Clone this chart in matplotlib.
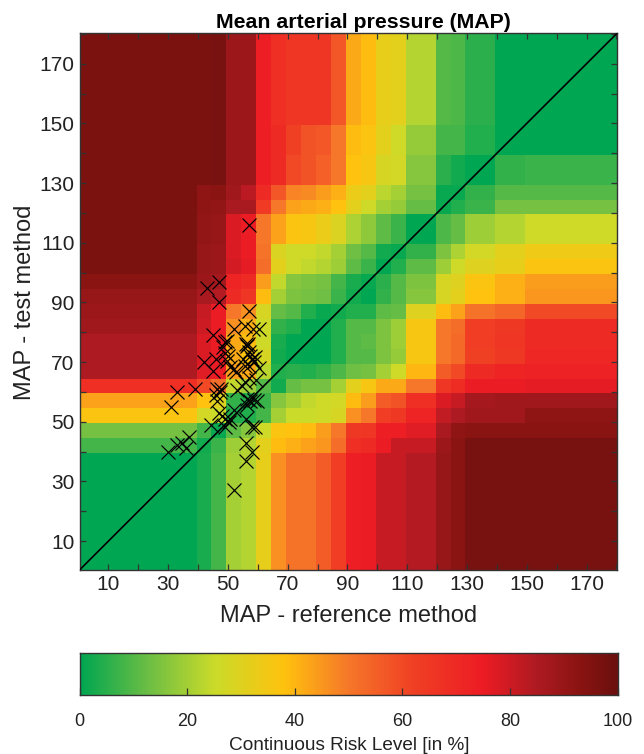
import matplotlib
matplotlib.use("Agg")
import matplotlib.pyplot as plt
import numpy as np
from matplotlib.colors import LinearSegmentedColormap

plt.rcParams['font.family'] = ['Liberation Sans', 'DejaVu Sans']

bin_edges = [0.5, 39.5, 44.5, 49.5, 54.5, 59.5, 64.5, 69.5, 74.5, 79.5, 84.5, 89.5,
             94.5, 99.5, 104.5, 109.5, 119.5, 124.5, 129.5, 139.5, 149.5, 180.2]

# rows listed from the top band (150-180) to the bottom band (0-40)
risk_rows_top_down = [
    [96, 96, 97, 89, 89, 74, 68, 66, 66, 66, 57, 42, 39, 32, 31, 22, 10, 9, 5, 0, 0],
    [96, 96, 97, 89, 89, 74, 70, 62, 58, 57, 50, 39, 37, 31, 26, 18, 8, 8, 4, 0, 0],
    [96, 96, 97, 89, 89, 74, 70, 60, 58, 55, 50, 38, 36, 28, 27, 16, 5, 2, 0, 6, 7],
    [96, 92, 93, 88, 83, 70, 57, 48, 47, 44, 41, 33, 31, 23, 20, 14, 1, 1, 6, 10, 10],
    [96, 92, 91, 86, 86, 64, 50, 43, 42, 41, 38, 31, 26, 20, 18, 12, 1, 4, 7, 14, 14],
    [96, 91, 90, 78, 75, 50, 43, 37, 36, 33, 29, 21, 17, 11, 7, 0, 9, 12, 19, 22, 26],
    [96, 90, 89, 78, 75, 51, 29, 26, 26, 24, 20, 13, 10, 2, 1, 6, 15, 21, 27, 31, 34],
    [96, 90, 89, 79, 76, 52, 31, 26, 24, 22, 19, 11, 7, 0, 4, 11, 19, 26, 30, 32, 37],
    [93, 89, 87, 72, 70, 44, 24, 16, 15, 14, 8, 3, 1, 5, 10, 15, 28, 30, 37, 41, 44],
    [90, 86, 84, 70, 66, 39, 20, 15, 14, 13, 7, 2, 0, 6, 10, 16, 28, 31, 38, 41, 45],
    [89, 81, 75, 50, 46, 28, 12, 10, 4, 1, 2, 4, 4, 11, 12, 30, 39, 43, 51, 54, 60],
    [88, 80, 75, 46, 41, 26, 6, 4, 0, 0, 4, 10, 10, 15, 19, 36, 50, 52, 63, 65, 70],
    [85, 78, 75, 42, 39, 26, 3, 0, 0, 0, 4, 10, 11, 15, 19, 36, 50, 53, 63, 66, 70],
    [85, 78, 75, 42, 38, 28, 2, 0, 0, 0, 4, 10, 10, 15, 18, 36, 50, 53, 62, 65, 71],
    [85, 77, 75, 44, 42, 23, 4, 5, 4, 6, 9, 13, 14, 20, 26, 40, 56, 60, 70, 72, 73],
    [68, 60, 52, 24, 19, 10, 2, 12, 14, 14, 20, 31, 36, 42, 42, 50, 66, 69, 75, 75, 76],
    [43, 38, 30, 6, 4, 7, 16, 20, 24, 26, 27, 39, 44, 56, 58, 68, 78, 81, 87, 88, 88],
    [37, 27, 25, 4, 4, 8, 20, 25, 25, 26, 28, 46, 50, 63, 65, 72, 82, 85, 88, 88, 92],
    [14, 8, 1, 11, 16, 26, 37, 38, 39, 44, 50, 65, 66, 74, 74, 77, 86, 92, 93, 93, 93],
    [8, 2, 7, 19, 22, 31, 39, 41, 43, 45, 52, 68, 70, 75, 81, 81, 89, 93, 97, 97, 97],
    [0, 3, 8, 20, 22, 32, 46, 51, 51, 56, 63, 74, 75, 81, 81, 84, 90, 93, 97, 97, 97],
]

marker_x = [57, 43, 47, 47.1, 57, 52, 55.8, 58.4, 60.3, 45, 49, 49.7, 48.5, 49, 50, 56, 56.8, 56.4,
            42, 46, 45, 49.7, 52, 50.8, 52.7, 55.2, 56.9, 58, 59, 55.8, 57, 58.6, 60.3, 57.5,
            59.5, 57, 55.8, 54.7, 53, 33, 39, 31, 46.3, 47.6, 47.2, 46, 46.3,
            56.3, 57.5, 58.6, 59.7, 56.3, 51.9, 50.8, 56, 46.9, 48, 49, 50.2, 49, 44.3,
            58, 59, 56, 58.2, 56, 52, 30, 33, 34.6, 36, 37]
marker_y = [116, 95, 97, 90, 87, 81, 82, 81, 81, 79, 76.6, 77, 75, 73, 72, 76, 76, 75.5,
            70, 71, 67, 70.5, 67.7, 68.3, 66.8, 71, 73.3, 71, 71.6, 68.8, 68.8, 70, 68, 72,
            64, 64.7, 63.2, 62, 60.5, 60, 61, 55, 61, 61, 60, 59, 57,
            57.7, 57, 57.3, 57, 55.5, 53.8, 51, 51, 52.9, 52, 51, 50, 48.4, 48.8,
            48.2, 48.2, 42.8, 40, 36.8, 27, 40, 42.3, 42.8, 41.2, 45]

identity_line = [0, 180]
major_ticks = list(range(10, 181, 10))
major_labels = [str(t) if t % 20 == 10 else '' for t in major_ticks]
cbar_ticks = [0, 20, 40, 60, 80, 100]

title_text = 'Mean arterial pressure (MAP)'
xlabel_text = 'MAP - reference method'
ylabel_text = 'MAP - test method'
cbar_label = 'Continuous Risk Level [in %]'

cmap_stops = [(0.00, '#00A651'), (0.13, '#6FBF44'), (0.25, '#CBDB2A'), (0.38, '#FFC20E'),
              (0.50, '#F6772A'), (0.62, '#F04024'), (0.75, '#ED1C24'), (0.85, '#AE1A22'),
              (0.93, '#8A1412'), (1.00, '#6B100E')]
risk_cmap = LinearSegmentedColormap.from_list('risk', cmap_stops, N=512)

W, H = 644, 754
fig = plt.figure(figsize=(W / 100, H / 100), dpi=100)
edge = '#333333'

ax = fig.add_axes([80 / W, 1 - 569.5 / H, 537 / W, 536.2 / H])
data = np.array(risk_rows_top_down)[::-1]
ax.pcolormesh(bin_edges, bin_edges, data, cmap=risk_cmap, vmin=0, vmax=100, shading='flat')
ax.plot(identity_line, identity_line, color='black', lw=1.2, zorder=3)
ax.plot(marker_x, marker_y, linestyle='none', marker='x', ms=9.5, mew=0.85, color='black', zorder=4)
ax.set_xlim(bin_edges[0], bin_edges[-1])
ax.set_ylim(bin_edges[0], bin_edges[-1])
ax.set_xticks(major_ticks)
ax.set_xticklabels(major_labels)
ax.set_yticks(major_ticks)
ax.set_yticklabels(major_labels)
ax.tick_params(direction='in', length=4, width=0.9, color=edge, top=True, right=True,
               labelsize=15, labelcolor='#222222', pad=4)
for s in ax.spines.values():
    s.set_color(edge)
    s.set_linewidth(1.0)

fig.text(363 / W, 1 - 22 / H, title_text, ha='center', va='center', fontsize=15.3,
         fontweight='bold', color='black')
fig.text(349 / W, 1 - 616 / H, xlabel_text, ha='center', va='center', fontsize=17, color='#222222')
fig.text(25 / W, 1 - 302 / H, ylabel_text, ha='center', va='center', rotation=90, fontsize=17,
         color='#222222')

cax = fig.add_axes([79.5 / W, 1 - 695 / H, 538 / W, 42 / H])
gradient = np.linspace(0, 100, 512).reshape(1, -1)
cax.imshow(gradient, aspect='auto', cmap=risk_cmap, vmin=0, vmax=100, extent=[0, 100, 0, 1])
cax.set_yticks([])
cax.set_xticks(cbar_ticks)
cax.tick_params(axis='x', direction='in', length=5, width=0.9, color=edge, labelsize=13,
                labelcolor='#222222', pad=13)
for s in cax.spines.values():
    s.set_color(edge)
    s.set_linewidth(1.0)
fig.text(349.5 / W, 1 - 745 / H, cbar_label, ha='center', va='center', fontsize=13.7, color='#222222')

fig.savefig('out.png', dpi=100)
